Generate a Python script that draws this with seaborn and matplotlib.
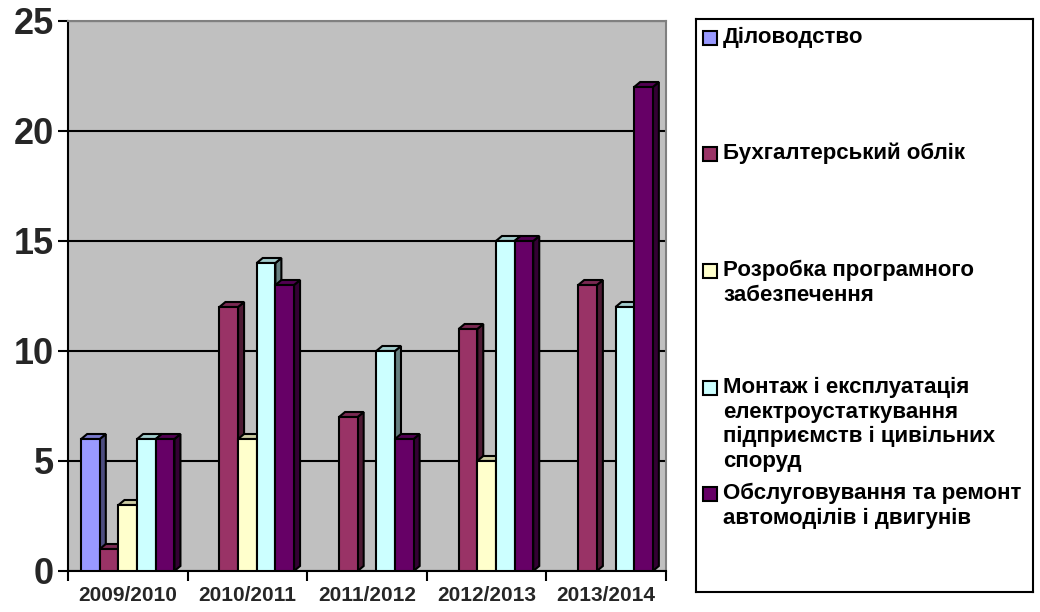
import pandas as pd
import matplotlib.pyplot as plt
import matplotlib.colors as mcolors
from matplotlib.patches import Polygon, Rectangle
import seaborn as sns

# 1. Data
years = ['2009/2010', '2010/2011', '2011/2012', '2012/2013', '2013/2014']
series_names = [
    'Діловодство',
    'Бухгалтерський облік',
    'Розробка програмного\nзабезпечення',
    'Монтаж і експлуатація\nелектроустаткування\nпідприємств і цивільних\nспоруд',
    'Обслуговування та ремонт\nавтомоділів і двигунів',
]
dilovodstvo = [6, 0, 0, 0, 0]
bukhgalteria = [1, 12, 7, 11, 13]
rozrobka = [3, 6, 0, 5, 0]
montazh = [6, 14, 10, 15, 12]
obsluhovuvannia = [6, 13, 6, 15, 22]
colors = ['#9999FF', '#993366', '#FFFFCC', '#CCFFFF', '#660066']

all_values = [dilovodstvo, bukhgalteria, rozrobka, montazh, obsluhovuvannia]
rows = []
for name, vals in zip(series_names, all_values):
    for year, v in zip(years, vals):
        rows.append({'year': year, 'series': name, 'value': v})
df = pd.DataFrame(rows)

# 2. Figure setup
sns.set_theme(style="white")
plt.rcParams['font.family'] = ['Liberation Sans', 'DejaVu Sans']
plt.rcParams['font.weight'] = 'bold'

W, H = 1040, 612
fig = plt.figure(figsize=(W / 100, H / 100), dpi=100)
ax = fig.add_axes([68 / W, 1 - 571 / H, (666 - 68) / W, (571 - 21) / H])
ax.set_facecolor('#C0C0C0')

sns.barplot(data=df, x='year', y='value', hue='series', hue_order=series_names,
            palette=colors, saturation=1, width=0.78, edgecolor='black', linewidth=1.5,
            legend=False, ax=ax, zorder=3)

ax.set_xlim(-0.5, 4.5)
ax.set_ylim(0, 25)

# 3. Fake 3D depth for the columns (Excel style)
p0 = ax.transData.transform((0, 0))
d = ax.transData.inverted().transform((p0[0] + 6, p0[1] + 5))
dx, dy = d[0], d[1]

for i, cont in enumerate(ax.containers):
    base = mcolors.to_rgb(colors[i])
    side = tuple(c * 0.5 for c in base)
    top = tuple(c * 0.8 for c in base)
    for bar in cont:
        h = bar.get_height()
        if h <= 0:
            bar.set_visible(False)
            continue
        x0, w = bar.get_x(), bar.get_width()
        z = 3 + i * 0.1
        bar.set_zorder(z + 0.05)
        ax.add_patch(Polygon([(x0 + w, 0), (x0 + w + dx, dy), (x0 + w + dx, h + dy), (x0 + w, h)],
                             closed=True, facecolor=side, edgecolor='black', lw=1.5, zorder=z))
        ax.add_patch(Polygon([(x0, h), (x0 + dx, h + dy), (x0 + w + dx, h + dy), (x0 + w, h)],
                             closed=True, facecolor=top, edgecolor='black', lw=1.5, zorder=z))

# 4. Grid, axes, ticks
ax.set_yticks([0, 5, 10, 15, 20, 25])
ax.yaxis.grid(True, color='black', linewidth=1.5)
ax.set_axisbelow(True)
ax.set_xlabel('')
ax.set_ylabel('')
for s in ['left', 'bottom']:
    ax.spines[s].set_color('black')
    ax.spines[s].set_linewidth(1.5)
for s in ['top', 'right']:
    ax.spines[s].set_color('#808080')
    ax.spines[s].set_linewidth(1.5)

ax.tick_params(axis='y', which='major', left=True, length=7, width=1.5, direction='out',
               labelsize=26, pad=3, color='black')
ax.set_xticks([-0.5, 0.5, 1.5, 2.5, 3.5, 4.5], minor=True)
ax.tick_params(axis='x', which='minor', bottom=True, length=7, width=1.5, direction='out', color='black')
ax.tick_params(axis='x', which='major', bottom=False, labelsize=15, pad=5)
for lab in ax.get_xticklabels() + ax.get_yticklabels():
    lab.set_fontweight('bold')

# 5. Legend box drawn by hand
lax = fig.add_axes([696 / W, 1 - 592 / H, (1033 - 696) / W, (592 - 19) / H])
lax.set_xlim(0, 1033 - 696)
lax.set_ylim(592 - 19, 0)
lax.set_xticks([])
lax.set_yticks([])
lax.set_facecolor('white')
for s in lax.spines.values():
    s.set_color('black')
    s.set_linewidth(1.5)

entry_tops = [12, 128, 245, 362, 468]
for name, col, y in zip(series_names, colors, entry_tops):
    lax.add_patch(Rectangle((7, y), 14, 14, facecolor=col, edgecolor='black', lw=1.5))
    lax.text(27, y - 4, name, va='top', ha='left', fontsize=16, fontweight='bold',
             linespacing=1.22, color='black')

plt.savefig('out.png', dpi=100)
